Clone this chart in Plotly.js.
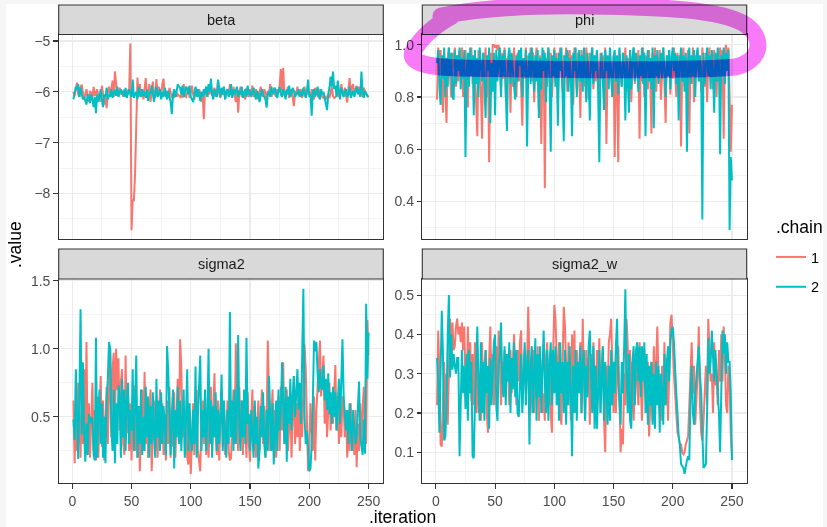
<!DOCTYPE html>
<html>
<head>
<meta charset="utf-8">
<script src="https://cdn.plot.ly/plotly-3.0.1.min.js"></script>
<style>html,body{margin:0;padding:0;background:#f6f6f6;}#chart{width:827px;height:527px;}</style>
</head>
<body>
<div id="chart"></div>
<script>
// ---------- data ----------
const parameters = ["beta", "phi", "sigma2", "sigma2_w"];
const chains = ["1", "2"];
const chainColors = ["#F8766D", "#00BFC4"];
const iterations = Array.from({length: 250}, (_, i) => i + 1);

const beta_chain1 = [
-6.0,-6.08,-5.95,-5.82,-6.05,-6.1,-5.9,-5.86,-6.02,-6.15,
-6.05,-5.95,-6.1,-6.2,-5.98,-6.03,-6.12,-5.9,-6.08,-6.0,
-5.95,-6.1,-6.02,-6.2,-5.88,-6.05,-6.25,-6.1,-6.32,-6.0,
-5.9,-6.05,-5.95,-5.78,-6.1,-5.6,-5.95,-6.08,-6.02,-5.92,
-6.05,-5.98,-6.1,-5.95,-6.02,-6.08,-5.96,-6.0,-5.05,-8.72,
-8.12,-8.15,-7.6,-6.85,-5.72,-6.1,-5.85,-6.05,-5.95,-6.15,
-5.9,-5.73,-6.05,-6.1,-5.85,-6.2,-5.98,-5.8,-6.05,-6.12,
-5.75,-6.08,-5.9,-6.0,-6.1,-5.85,-5.74,-6.05,-6.1,-5.98,
-6.12,-5.92,-6.05,-6.1,-6.08,-6.12,-5.98,-6.1,-6.05,-6.08,
-6.1,-6.05,-6.12,-5.85,-6.08,-6.1,-6.02,-5.9,-6.12,-6.0,
-5.88,-6.05,-6.15,-5.92,-6.0,-6.1,-5.95,-6.02,-6.2,-6.05,
-6.54,-6.0,-5.9,-6.1,-5.95,-6.05,-5.85,-6.08,-6.0,-5.92,
-6.1,-6.02,-5.8,-6.05,-6.12,-5.98,-6.06,-5.9,-6.15,-6.0,
-5.95,-6.08,-5.85,-6.02,-6.1,-5.9,-6.05,-6.2,-5.95,-6.41,
-6.0,-5.9,-6.1,-5.98,-6.05,-6.15,-5.92,-6.02,-6.1,-5.95,
-6.05,-5.88,-6.1,-6.02,-5.95,-6.08,-6.15,-6.0,-5.9,-6.05,
-6.1,-5.95,-6.02,-6.2,-5.98,-6.05,-5.85,-6.1,-6.0,-5.92,
-6.05,-6.1,-5.95,-6.02,-5.88,-5.55,-6.0,-5.53,-6.08,-5.98,
-6.05,-5.9,-6.12,-6.0,-5.95,-6.1,-6.28,-5.98,-6.05,-5.9,
-6.08,-6.0,-5.95,-6.12,-6.02,-5.9,-6.1,-6.05,-5.98,-6.02,
-6.1,-5.95,-6.05,-6.15,-5.92,-6.0,-6.08,-6.12,-5.95,-6.02,
-6.1,-6.12,-6.08,-6.15,-6.1,-6.05,-6.12,-6.0,-5.9,-6.08,
-6.12,-6.1,-6.08,-5.95,-6.1,-6.05,-5.85,-6.0,-6.1,-5.92,
-6.05,-6.21,-5.95,-5.73,-6.05,-5.9,-5.85,-6.08,-5.95,-5.88,
-6.0,-5.9,-6.05,-5.95,-6.1,-5.92,-6.0,-6.05,-6.08,-6.1];

const beta_chain2 = [
-6.15,-6.05,-5.9,-5.95,-5.85,-6.1,-5.92,-6.05,-6.15,-6.1,
-6.2,-6.25,-6.05,-6.1,-6.22,-6.05,-6.15,-6.3,-6.1,-6.42,
-6.05,-6.2,-6.1,-5.95,-6.15,-6.3,-6.05,-6.1,-5.92,-6.15,
-6.05,-6.1,-5.95,-6.12,-6.0,-5.98,-6.08,-5.9,-6.1,-6.0,
-5.95,-6.05,-5.98,-6.1,-5.92,-6.12,-6.0,-5.95,-6.05,-6.1,
-5.76,-6.12,-6.05,-6.0,-6.15,-5.9,-6.05,-6.1,-5.95,-6.08,
-6.0,-6.12,-5.95,-6.18,-6.0,-6.05,-5.88,-6.1,-6.2,-6.02,
-5.9,-6.1,-6.05,-5.95,-6.15,-6.0,-6.1,-5.92,-6.05,-6.15,
-5.98,-6.1,-6.2,-6.44,-6.05,-5.95,-6.1,-6.0,-5.85,-5.9,
-5.92,-6.05,-5.88,-6.1,-6.0,-5.9,-5.95,-6.05,-5.88,-6.1,
-6.15,-6.2,-6.05,-5.9,-6.1,-5.95,-6.05,-6.18,-6.0,-6.1,
-5.95,-6.05,-5.9,-6.1,-5.85,-6.0,-5.74,-6.05,-6.15,-5.95,
-6.05,-6.1,-5.76,-6.0,-6.1,-5.92,-6.05,-5.9,-6.15,-6.0,
-5.95,-6.1,-6.05,-5.85,-6.12,-5.95,-6.05,-5.98,-5.9,-6.1,
-5.98,-6.05,-5.9,-6.12,-6.0,-5.95,-6.1,-5.88,-6.05,-5.98,
-6.1,-6.0,-5.92,-6.05,-6.15,-5.98,-6.05,-6.2,-6.1,-5.95,
-6.05,-6.1,-6.15,-6.31,-6.05,-5.98,-6.1,-5.9,-6.05,-6.0,
-5.92,-6.05,-6.12,-5.98,-5.9,-6.05,-6.1,-5.95,-6.02,-6.15,
-5.95,-6.05,-5.88,-6.1,-6.0,-5.92,-5.98,-6.1,-6.05,-6.02,
-5.95,-6.1,-6.0,-6.08,-5.92,-6.05,-6.12,-5.98,-5.76,-6.1,
-6.05,-6.47,-6.0,-5.95,-6.1,-6.02,-5.9,-6.08,-6.15,-5.95,
-6.05,-6.0,-6.1,-6.2,-6.36,-6.05,-5.92,-5.7,-5.9,-5.6,
-5.95,-5.88,-6.1,-5.78,-6.05,-6.15,-5.92,-6.05,-6.1,-6.0,
-5.95,-6.1,-6.05,-5.9,-6.12,-6.05,-5.98,-6.1,-6.02,-5.9,
-6.05,-5.95,-6.1,-5.6,-6.0,-6.12,-5.98,-6.05,-6.08,-6.1];

const phi_chain1 = [
0.79,0.99,0.9,0.98,0.84,0.74,0.96,0.82,0.70,0.95,
0.99,0.88,0.8,0.97,0.91,0.99,0.84,0.96,0.86,0.98,
0.9,0.99,0.8,0.95,0.98,0.86,0.76,0.97,0.89,0.99,
0.85,0.96,0.9,0.78,0.65,0.98,0.9,0.83,0.64,0.97,
0.88,0.99,0.8,0.93,0.55,0.97,0.86,1.0,1.0,0.99,
1.0,0.98,1.0,0.9,0.82,0.97,0.87,0.99,0.8,0.95,
0.9,0.98,0.74,0.96,0.84,0.99,0.9,0.8,0.97,0.86,
0.98,0.8,0.69,0.95,0.87,0.99,0.83,0.96,0.9,0.99,
0.86,0.97,0.78,0.93,0.99,0.88,0.75,0.96,0.62,0.92,
0.98,0.45,0.95,0.84,0.99,0.89,0.97,0.8,0.93,0.99,
0.86,0.97,0.78,0.95,0.99,0.87,0.82,0.96,0.9,0.99,
0.82,0.95,0.98,0.86,0.96,0.77,0.99,0.9,0.83,0.97,
0.92,0.72,0.98,0.87,0.96,0.84,0.99,0.9,0.79,0.97,
0.89,0.99,0.83,0.95,0.86,0.98,0.9,0.78,0.97,0.87,
0.96,0.83,0.99,0.62,0.93,0.86,0.98,0.9,0.8,0.96,
0.57,0.95,0.87,0.55,0.98,0.9,0.84,0.97,0.89,0.99,
0.82,0.95,0.87,0.98,0.78,0.93,0.99,0.85,0.96,0.88,
0.98,0.64,0.95,0.86,0.99,0.8,0.96,0.9,0.83,0.98,
0.89,0.66,0.97,0.87,0.99,0.82,0.95,0.9,0.98,0.79,
0.93,0.99,0.85,0.7,0.96,0.88,0.98,0.81,0.95,0.87,
0.99,0.9,0.8,0.97,0.86,0.96,0.61,0.93,0.99,0.84,
0.95,0.88,0.98,0.66,0.93,0.85,0.99,0.78,0.96,0.9,
0.98,0.86,0.95,0.82,0.99,0.9,0.84,0.97,0.78,0.93,
0.99,0.88,0.96,0.83,0.98,0.9,0.8,0.95,0.86,0.99,
0.92,0.98,0.64,0.97,1.0,0.9,0.99,0.8,0.59,0.77];

const phi_chain2 = [
0.93,0.98,0.84,0.77,0.96,0.87,0.99,0.8,0.95,0.84,
0.99,0.88,0.97,0.8,0.79,0.98,0.85,0.96,0.9,0.99,
0.83,0.95,0.87,0.98,0.57,0.9,0.97,0.84,0.99,0.88,
0.96,0.73,0.98,0.85,0.95,0.8,0.99,0.9,0.86,0.97,
0.84,0.72,0.96,0.9,0.99,0.70,0.93,0.82,0.97,0.73,
0.98,0.86,0.95,0.99,0.8,0.96,0.88,0.98,0.83,0.67,
0.95,0.99,0.85,0.97,0.9,0.82,0.79,0.96,0.86,0.98,
0.92,0.99,0.8,0.95,0.88,0.98,0.61,0.9,0.97,0.85,
0.99,0.92,0.82,0.96,0.86,0.98,0.72,0.95,0.83,0.99,
0.9,0.97,0.78,0.93,0.99,0.86,0.59,0.96,0.88,0.98,
0.84,0.95,0.69,0.97,0.9,0.99,0.85,0.63,0.96,0.88,
0.98,0.82,0.95,0.87,0.65,0.97,0.9,0.99,0.8,0.93,
0.98,0.86,0.96,0.82,0.99,0.9,0.78,0.97,0.88,0.71,
0.95,0.99,0.85,0.96,0.9,0.98,0.82,0.55,0.93,0.97,
0.87,0.75,0.98,0.9,0.96,0.83,0.99,0.88,0.8,0.95,
0.98,0.86,0.96,0.81,0.99,0.9,0.84,0.97,0.92,0.71,
0.96,0.88,0.74,0.98,0.83,0.95,0.99,0.86,0.97,0.9,
0.82,0.96,0.88,0.99,0.85,0.97,0.65,0.93,0.98,0.86,
0.95,0.83,0.99,0.68,0.96,0.88,0.98,0.85,0.93,0.97,
0.87,0.99,0.9,0.8,0.96,0.88,0.98,0.83,0.95,0.99,
0.9,0.97,0.85,0.96,0.71,0.93,0.99,0.86,0.96,0.82,
0.97,0.59,0.93,0.99,0.85,0.96,0.88,0.98,0.8,0.95,
0.99,0.86,0.96,0.9,0.33,0.97,0.85,0.95,0.99,0.88,
0.96,0.83,0.98,0.9,0.74,0.97,0.86,0.99,0.93,0.58,
0.96,0.88,0.99,0.85,0.97,0.9,0.98,0.29,0.57,0.48];

const sigma2_chain1 = [
0.62,0.16,0.55,0.25,0.75,0.45,0.2,0.68,0.3,0.85,
0.35,1.05,0.22,0.6,0.2,0.48,0.75,0.25,0.55,0.18,
0.65,0.2,0.5,0.8,0.28,0.62,0.18,0.55,0.72,0.3,
0.6,1.02,0.35,0.85,0.97,0.45,1.0,0.7,0.93,0.4,
0.75,0.85,0.3,0.22,0.95,0.38,0.7,0.25,0.6,0.18,
0.5,0.73,0.25,0.65,0.2,0.55,0.1,0.45,0.7,0.25,
0.83,0.3,0.6,0.2,0.5,0.7,0.1,0.45,0.62,0.25,
0.55,0.2,0.48,0.7,0.3,0.6,0.22,0.52,0.18,0.62,
0.3,0.72,0.2,0.55,0.28,0.68,0.2,0.5,0.78,0.3,
1.07,0.87,0.35,0.62,0.22,0.5,0.2,0.15,0.45,0.08,
0.3,0.6,0.22,0.5,0.7,0.25,0.18,0.1,0.48,0.62,
0.3,0.68,0.22,0.55,0.2,0.5,0.72,0.25,0.55,0.82,
0.35,0.22,0.62,0.18,0.5,0.7,0.28,0.58,0.22,0.48,
0.62,0.25,0.18,0.2,0.55,0.7,0.3,1.04,0.45,0.25,
0.72,0.35,0.62,0.22,0.65,0.4,0.2,0.68,0.3,0.17,
0.5,0.7,0.25,0.58,0.2,0.45,0.62,0.25,0.5,0.7,
0.3,0.58,0.2,0.45,1.06,0.62,0.25,0.5,0.7,0.3,
0.55,0.2,0.45,0.65,0.25,0.72,0.4,0.9,0.3,0.55,
0.7,0.25,0.5,0.62,0.2,0.55,0.8,0.3,0.6,0.35,
0.68,0.25,0.55,0.35,0.72,1.03,0.85,0.4,0.1,0.3,
0.6,0.4,0.25,0.65,0.18,0.55,0.75,0.9,1.06,0.65,
0.85,0.95,0.45,0.7,0.35,0.6,0.75,0.4,0.65,0.45,
0.7,0.88,0.4,0.65,0.3,0.6,0.35,0.65,0.57,0.35,
0.55,0.2,0.5,0.25,0.6,0.3,0.45,0.22,0.55,0.13,
0.45,0.25,0.6,0.3,0.55,0.72,0.35,0.3,1.21,0.95];

const sigma2_chain2 = [
0.48,0.33,0.85,0.55,0.19,0.65,1.29,0.37,0.9,0.4,
0.17,0.45,0.22,0.52,0.45,0.5,0.48,0.22,0.18,1.08,
0.2,0.55,0.7,0.3,0.6,0.2,0.5,0.16,0.62,0.78,
1.05,1.0,0.4,0.25,0.7,0.16,0.6,0.3,0.73,0.65,
0.2,0.78,0.35,0.7,0.25,0.62,0.75,0.3,0.55,0.4,
0.85,0.25,0.62,0.95,0.2,0.58,0.3,0.7,0.22,0.5,
0.25,0.72,0.35,0.65,0.2,0.58,0.3,0.68,0.38,0.2,
0.78,0.35,0.62,0.25,0.68,0.3,0.58,0.45,0.22,1.02,
0.83,0.45,0.22,0.52,0.7,0.12,0.55,0.35,0.72,0.3,
0.62,0.25,0.5,0.7,0.2,0.55,0.85,0.25,0.6,0.35,
0.25,0.55,0.3,0.87,0.2,0.5,0.68,0.95,0.25,0.55,
0.35,0.7,0.25,0.5,1.0,0.3,0.62,0.2,0.58,0.35,
0.68,0.25,0.55,0.3,0.5,0.81,0.25,0.62,0.35,0.2,
0.55,0.3,1.27,0.35,0.62,0.25,0.7,0.3,0.55,1.1,
0.4,0.25,0.62,0.35,0.7,0.3,1.08,0.45,0.52,0.25,
0.55,0.35,0.2,0.62,0.3,0.5,0.12,0.25,0.58,0.35,
0.68,0.3,0.2,0.55,0.25,0.8,0.4,0.25,0.6,0.15,
0.35,0.62,0.25,0.7,0.4,0.55,0.9,0.5,0.3,0.72,
0.17,0.65,0.45,0.78,0.4,0.65,0.8,0.5,0.7,0.85,
0.55,0.75,0.45,0.91,1.44,0.5,0.3,0.4,0.2,0.1,
0.12,0.3,0.62,1.06,0.98,1.05,0.82,0.68,0.85,0.72,
0.7,0.88,0.62,0.78,0.55,0.82,0.52,0.68,0.45,0.72,
0.5,0.68,0.4,0.62,0.78,0.45,0.88,1.07,0.65,0.55,
0.4,0.55,0.3,0.6,0.35,0.25,0.55,0.4,0.3,0.37,
0.6,0.76,0.35,0.28,0.22,0.48,0.23,1.33,0.78,1.12];

const sigma2_w_chain1 = [
0.22,0.41,0.3,0.12,0.115,0.25,0.33,0.18,0.3,0.17,
0.3,0.44,0.35,0.43,0.36,0.37,0.42,0.44,0.4,0.42,
0.38,0.43,0.36,0.42,0.27,0.22,0.42,0.28,0.38,0.23,
0.35,0.22,0.38,0.2,0.36,0.2,0.3,0.18,0.38,0.2,
0.32,0.36,0.2,0.15,0.34,0.42,0.25,0.35,0.22,0.36,
0.37,0.25,0.41,0.35,0.22,0.33,0.27,0.36,0.25,0.34,
0.33,0.22,0.36,0.25,0.32,0.4,0.3,0.22,0.36,0.28,
0.38,0.41,0.22,0.3,0.36,0.25,0.33,0.47,0.3,0.2,
0.28,0.36,0.2,0.32,0.24,0.37,0.18,0.34,0.3,0.2,
0.25,0.18,0.34,0.38,0.22,0.32,0.2,0.15,0.35,0.475,
0.44,0.36,0.25,0.38,0.2,0.17,0.34,0.47,0.42,0.3,
0.22,0.38,0.27,0.18,0.4,0.25,0.41,0.2,0.36,0.25,
0.32,0.38,0.2,0.44,0.28,0.18,0.36,0.25,0.34,0.17,
0.35,0.22,0.38,0.26,0.18,0.36,0.27,0.39,0.2,0.32,
0.37,0.18,0.10,0.32,0.22,0.38,0.4,0.44,0.28,0.2,
0.32,0.2,0.33,0.37,0.25,0.1,0.16,0.12,0.3,0.22,
0.44,0.37,0.25,0.36,0.2,0.33,0.18,0.3,0.36,0.27,
0.22,0.38,0.28,0.18,0.3,0.36,0.25,0.2,0.33,0.14,
0.22,0.33,0.18,0.37,0.24,0.32,0.42,0.28,0.2,0.18,
0.32,0.24,0.38,0.22,0.34,0.18,0.36,0.43,0.45,0.35,
0.3,0.25,0.2,0.15,0.14,0.12,0.12,0.1,0.095,0.1,
0.12,0.13,0.14,0.22,0.3,0.38,0.25,0.32,0.17,0.22,
0.3,0.42,0.22,0.15,0.13,0.18,0.28,0.32,0.22,0.44,
0.36,0.28,0.3,0.2,0.38,0.27,0.3,0.22,0.36,0.28,
0.4,0.28,0.42,0.35,0.22,0.2,0.32,0.28,0.15,0.09];

const sigma2_w_chain2 = [
0.34,0.28,0.15,0.3,0.46,0.35,0.13,0.14,0.22,0.4,
0.5,0.29,0.4,0.31,0.35,0.32,0.3,0.34,0.34,0.09,
0.22,0.36,0.25,0.32,0.21,0.35,0.18,0.36,0.25,0.33,
0.09,0.085,0.22,0.32,0.42,0.28,0.18,0.38,0.2,0.33,
0.18,0.36,0.25,0.32,0.16,0.34,0.22,0.3,0.38,0.4,
0.22,0.18,0.32,0.35,0.43,0.28,0.24,0.37,0.22,0.35,
0.28,0.38,0.2,0.34,0.26,0.38,0.24,0.36,0.2,0.19,
0.3,0.35,0.2,0.32,0.38,0.22,0.33,0.36,0.12,0.32,
0.37,0.2,0.3,0.39,0.18,0.35,0.24,0.37,0.2,0.32,
0.41,0.28,0.2,0.36,0.18,0.33,0.38,0.22,0.36,0.25,
0.37,0.22,0.33,0.18,0.38,0.25,0.33,0.2,0.36,0.17,
0.33,0.22,0.37,0.25,0.09,0.32,0.2,0.36,0.18,0.33,
0.25,0.37,0.2,0.33,0.36,0.18,0.32,0.24,0.37,0.41,
0.28,0.2,0.37,0.16,0.32,0.16,0.25,0.36,0.2,0.32,
0.37,0.18,0.33,0.25,0.17,0.32,0.18,0.36,0.22,0.33,
0.25,0.37,0.44,0.28,0.2,0.17,0.33,0.25,0.37,0.515,
0.3,0.2,0.35,0.18,0.16,0.33,0.37,0.22,0.36,0.38,
0.28,0.37,0.24,0.37,0.28,0.38,0.2,0.35,0.17,0.32,
0.22,0.33,0.17,0.3,0.16,0.33,0.22,0.32,0.15,0.3,
0.25,0.17,0.35,0.22,0.32,0.37,0.28,0.38,0.41,0.42,
0.38,0.3,0.25,0.2,0.14,0.12,0.07,0.065,0.06,0.045,
0.07,0.08,0.09,0.08,0.25,0.32,0.2,0.17,0.25,0.3,
0.33,0.37,0.3,0.25,0.15,0.06,0.065,0.07,0.2,0.39,
0.3,0.33,0.41,0.35,0.28,0.36,0.3,0.25,0.2,0.1,
0.25,0.41,0.35,0.4,0.3,0.38,0.33,0.33,0.25,0.08];

const seriesByParam = {
  beta: [beta_chain1, beta_chain2],
  phi: [phi_chain1, phi_chain2],
  sigma2: [sigma2_chain1, sigma2_chain2],
  sigma2_w: [sigma2_w_chain1, sigma2_w_chain2]
};

// ---------- layout helpers (pixel -> paper) ----------
const W = 827, H = 527;
const px = v => v / W;
const py = v => 1 - v / H;
const FONT = "'Liberation Sans', Arial, Helvetica, sans-serif";

const xDom = [[px(58.7), px(383.3)], [px(422.3), px(746.7)]];
const yDom = [[py(239.3), py(34.5)], [py(483.3), py(279)]];
const stripPx = [[5, 34.5], [249, 279]];

const axisIds = ["", "2", "3", "4"];
const traces = [];
parameters.forEach((p, k) => {
  seriesByParam[p].forEach((vals, c) => {
    traces.push({
      type: "scatter", mode: "lines",
      x: iterations, y: vals,
      xaxis: "x" + axisIds[k], yaxis: "y" + axisIds[k],
      name: chains[c], legendgroup: chains[c],
      showlegend: k === 0,
      line: {color: chainColors[c], width: 2},
      hoverinfo: "skip"
    });
  });
});

const common = {
  showline: true, mirror: true, linecolor: "#333333", linewidth: 1.1,
  showgrid: true, gridcolor: "#ebebeb", gridwidth: 1.1, zeroline: false,
  ticks: "outside", ticklen: 4.4, tickwidth: 1.1, tickcolor: "#333333",
  tickfont: {family: FONT, size: 14, color: "#4d4d4d"},
  fixedrange: true
};
function xax(col, row) {
  return Object.assign({}, common, {
    domain: xDom[col], anchor: "y" + axisIds[row * 2 + col],
    range: [-11.45, 262.45], tickmode: "linear", tick0: 0, dtick: 50,
    minor: {dtick: 25, tick0: 0, showgrid: true, gridcolor: "#ebebeb", gridwidth: 0.55, ticks: ""},
    ticks: row === 1 ? "outside" : "", showticklabels: row === 1
  });
}
function yax(col, row, range, t0, dt, fmt) {
  return Object.assign({}, common, {
    domain: yDom[row], anchor: "x" + axisIds[row * 2 + col],
    range: range, tickmode: "linear", tick0: t0, dtick: dt, tickformat: fmt,
    minor: {dtick: dt / 2, tick0: t0, showgrid: true, gridcolor: "#ebebeb", gridwidth: 0.55, ticks: ""}
  });
}

const shapes = [
  {type: "rect", xref: "paper", yref: "paper", layer: "below",
   x0: px(6), x1: px(823), y0: 0, y1: py(4), fillcolor: "#ffffff", line: {width: 0}}
];
const annotations = [];
parameters.forEach((p, k) => {
  const col = k % 2, row = Math.floor(k / 2);
  shapes.push({type: "rect", xref: "paper", yref: "paper", layer: "above",
    x0: xDom[col][0], x1: xDom[col][1], y0: py(stripPx[row][1]), y1: py(stripPx[row][0]),
    fillcolor: "#d9d9d9", line: {color: "#333333", width: 1.1}});
  annotations.push({xref: "paper", yref: "paper", x: (xDom[col][0] + xDom[col][1]) / 2,
    y: py((stripPx[row][0] + stripPx[row][1]) / 2), text: p, showarrow: false,
    xanchor: "center", yanchor: "middle", font: {family: FONT, size: 14.5, color: "#1a1a1a"}});
});
annotations.push({xref: "paper", yref: "paper", x: px(15), y: py(245), text: ".value",
  textangle: -90, showarrow: false, xanchor: "center", yanchor: "middle",
  font: {family: FONT, size: 17.5, color: "#000000"}});
annotations.push({xref: "paper", yref: "paper", x: px(402.7), y: py(517), text: ".iteration",
  showarrow: false, xanchor: "center", yanchor: "middle",
  font: {family: FONT, size: 17.5, color: "#000000"}});
annotations.push({xref: "paper", yref: "paper", x: px(774), y: py(226.5), text: ".chain",
  showarrow: false, xanchor: "left", yanchor: "middle",
  font: {family: FONT, size: 17.5, color: "#000000"}});

// freehand highlighter ellipse (pixel path -> paper path)
const hl = [["M", 441, 16], ["C", 480, 8, 530, 5, 590, 6], ["C", 660, 7, 722, 9, 746, 25],
  ["C", 766, 40, 760, 62, 735, 67], ["C", 680, 72, 520, 69, 460, 68],
  ["C", 425, 67, 406, 62, 414, 50], ["C", 420, 40, 432, 27, 452, 16]];
const hlPath = hl.map(seg => {
  const cmd = seg[0], nums = seg.slice(1), pts = [];
  for (let i = 0; i < nums.length; i += 2) pts.push(px(nums[i]).toFixed(5) + "," + py(nums[i + 1]).toFixed(5));
  return cmd + pts.join(" ");
}).join(" ");
shapes.push({type: "path", xref: "paper", yref: "paper", layer: "above", path: hlPath,
  line: {color: "rgb(248,122,248)", width: 17}});

const layout = {
  width: W, height: H, margin: {l: 0, r: 0, t: 0, b: 0},
  paper_bgcolor: "#f6f6f6", plot_bgcolor: "#ffffff",
  font: {family: FONT},
  xaxis: xax(0, 0), xaxis2: xax(1, 0), xaxis3: xax(0, 1), xaxis4: xax(1, 1),
  yaxis: yax(0, 0, [-8.90, -4.873], -8, 1, ""),
  yaxis2: yax(1, 0, [0.254, 1.040], 0.4, 0.2, ".1f"),
  yaxis3: yax(0, 1, [0.012, 1.512], 0.5, 0.5, ".1f"),
  yaxis4: yax(1, 1, [0.021, 0.541], 0.1, 0.1, ".1f"),
  showlegend: true,
  legend: {x: px(771), xanchor: "left", y: py(241), yanchor: "top",
    font: {family: FONT, size: 14.5, color: "#000"},
    bgcolor: "rgba(0,0,0,0)", traceorder: "grouped", tracegroupgap: 8},
  shapes: shapes, annotations: annotations
};

Plotly.newPlot("chart", traces, layout, {displayModeBar: false, staticPlot: true}).then(gd => {
  const paths = gd.querySelectorAll(".layer-above .shapelayer path");
  const last = paths[paths.length - 1];
  if (last) {
    last.style.mixBlendMode = "multiply";
    last.setAttribute("stroke-linecap", "round");
    last.setAttribute("stroke-linejoin", "round");
  }
});
</script>
</body>
</html>
